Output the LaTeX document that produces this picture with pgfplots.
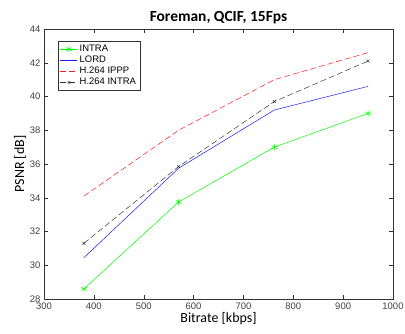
\documentclass[border=0pt]{standalone}
\usepackage{pgfplots}
\pgfplotsset{compat=1.18}
\usepackage{fontspec}
\setmainfont{Liberation Sans}
\newfontfamily\carlito{Carlito}
\begin{document}
\begin{tikzpicture}
\useasboundingbox (-44bp,-35bp) rectangle (361bp,299bp);
\begin{axis}[
  at={(0,0)}, anchor=south west,
  scale only axis, width=349bp, height=270bp,
  xmin=300, xmax=1000, ymin=28, ymax=44,
  xtick={300,400,...,1000}, ytick={28,30,...,44},
  tick align=inside, tick pos=both,
  major tick length=4bp,
  /pgf/number format/assume math mode=true,
  /pgf/number format/1000 sep={},
  tick label style={font=\fontsize{9.5}{10}\selectfont, text=black!75},
  every tick/.style={black!80},
  axis line style={black!80},
  title={\carlito\bfseries\fontsize{15.5}{17}\selectfont Foreman, QCIF, 15Fps},
  title style={yshift=-4bp},
  xlabel={\carlito\fontsize{14}{16}\selectfont Bitrate [kbps]},
  ylabel={\carlito\fontsize{14}{16}\selectfont PSNR [dB]},
  xlabel style={yshift=4bp},
  ylabel style={yshift=-3bp},
  legend style={at={(14bp,258bp)}, anchor=north west, font=\fontsize{9.5}{11}\selectfont, draw=black!80, inner sep=2bp, row sep=-1bp, cells={anchor=west}},
  legend cell align=left,
]
\addplot[color=green, mark=asterisk, mark size=3.2pt, line width=0.5pt] coordinates {(380,28.6) (570,33.75) (762,37.0) (950,39.0)};
\addlegendentry{INTRA}
\addplot[color=blue!90, line width=0.5pt] coordinates {(380,30.45) (570,35.75) (762,39.2) (950,40.6)};
\addlegendentry{LORD}
\addplot[color=red!90, dashed, dash pattern=on 6bp off 3bp, line width=0.5pt] coordinates {(380,34.1) (570,38.0) (762,41.0) (950,42.6)};
\addlegendentry{H.264 IPPP}
\addplot[color=black!80, dash pattern=on 6bp off 3bp, mark=x, mark size=2pt, mark options={solid}, line width=0.5pt] coordinates {(380,31.3) (570,35.85) (762,39.7) (950,42.1)};
\addlegendentry{H.264 INTRA}
\end{axis}
\end{tikzpicture}
\end{document}
